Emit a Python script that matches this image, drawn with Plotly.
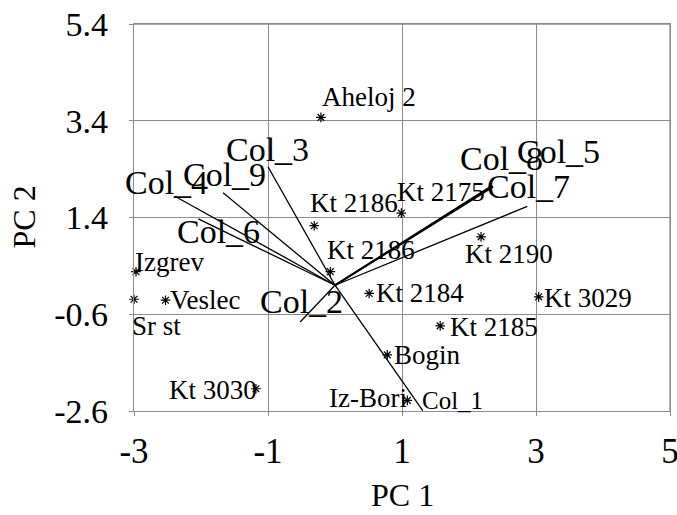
import plotly.graph_objects as go

# --- data: sample scores ---
sample_names = ["Aheloj 2", "Kt 2186", "Kt 2175", "Kt 2186 ", "Kt 2190", "Kt 2184",
                "Kt 3029", "Kt 2185", "Bogin", "Iz-Bori", "Kt 3030", "Izgrev",
                "Sr st", "Veslec"]
sample_pc1 = [-0.21, -0.31, 0.99, -0.07, 2.18, 0.51, 3.04, 1.57, 0.78, 1.08, -1.18, -2.97, -3.0, -2.53]
sample_pc2 = [3.47, 1.23, 1.49, 0.28, 1.00, -0.17, -0.24, -0.84, -1.44, -2.38, -2.14, 0.28, -0.29, -0.31]

# --- data: variable loadings (vectors from origin) ---
var_names = ["Col_1", "Col_2", "Col_3", "Col_4", "Col_5", "Col_6", "Col_7", "Col_8", "Col_9"]
var_pc1 = [1.31, -0.52, -1.00, -2.39, 2.35, -2.04, 2.87, 2.36, -1.67]
var_pc2 = [-2.59, -0.76, 2.45, 1.84, 2.06, 1.37, 1.63, 2.04, 1.91]

x_ticks = [-3, -1, 1, 3, 5]
y_ticks = [-2.6, -0.6, 1.4, 3.4, 5.4]

# label placement (styles, pixel shifts)
sample_lab = {
    "Aheloj 2": ("left", -1, 20),
    "Kt 2186": ("left", -6, 23),
    "Kt 2175": ("left", -6, 21),
    "Kt 2186 ": ("left", -5, 22),
    "Kt 2190": ("left", -18, -17),
    "Kt 2184": ("left", 5, 0),
    "Kt 3029": ("left", 3, -1),
    "Kt 2185": ("left", 8, -1),
    "Bogin": ("left", 5, 0),
    "Iz-Bori": ("right", 2, 2),
    "Kt 3030": ("right", 3, -1),
    "Izgrev": ("left", -3, 10),
    "Sr st": ("left", -4, -27),
    "Veslec": ("left", 3, 0),
}
var_lab = {
    "Col_1": ("left", -3, 10, 25),
    "Col_2": ("center", 1, 20, 34),
    "Col_3": ("center", -1, 17, 34),
    "Col_4": ("center", -8, 14, 34),
    "Col_5": ("center", 66, 34, 34),
    "Col_6": ("center", 20, -13, 34),
    "Col_7": ("center", 1, 20, 34),
    "Col_8": ("center", 8, 28, 34),
    "Col_9": ("center", 1, 18, 34),
}

FONT = "Liberation Serif, Times New Roman, serif"
fig = go.Figure()

for n, vx, vy in zip(var_names, var_pc1, var_pc2):
    w = 2.0 if n in ("Col_8", "Col_5") else 1.3
    fig.add_trace(go.Scatter(x=[0, vx], y=[0, vy], mode="lines",
                             line=dict(color="black", width=w),
                             showlegend=False, hoverinfo="skip"))

fig.add_trace(go.Scatter(x=sample_pc1, y=sample_pc2, mode="markers",
                         marker=dict(symbol="asterisk-open", size=8, color="black",
                                     line=dict(color="black", width=1.2)),
                         cliponaxis=False, showlegend=False))

annotations = []
for n, sx, sy in zip(sample_names, sample_pc1, sample_pc2):
    anc, dx, dy = sample_lab[n]
    annotations.append(dict(x=sx, y=sy, xref="x", yref="y", text=n.strip(),
                            showarrow=False, xanchor=anc, yanchor="middle",
                            xshift=dx, yshift=dy,
                            font=dict(family=FONT, size=27, color="black")))
for n, vx, vy in zip(var_names, var_pc1, var_pc2):
    anc, dx, dy, fs = var_lab[n]
    annotations.append(dict(x=vx, y=vy, xref="x", yref="y", text=n,
                            showarrow=False, xanchor=anc, yanchor="middle",
                            xshift=dx, yshift=dy,
                            font=dict(family=FONT, size=fs, color="black")))

annotations.append(dict(x=0.5, y=0, xref="paper", yref="paper", text="PC 1",
                        showarrow=False, xanchor="center", yanchor="middle",
                        yshift=-84, font=dict(family=FONT, size=32, color="black")))
annotations.append(dict(x=0, y=0.5, xref="paper", yref="paper", text="PC 2",
                        showarrow=False, xanchor="center", yanchor="middle",
                        xshift=-111, textangle=-90,
                        font=dict(family=FONT, size=32, color="black")))

grid = "#8c8c8c"
frame = [
    dict(type="line", xref="paper", yref="paper", x0=0, y0=1, x1=1, y1=1,
         line=dict(color=grid, width=1.3), layer="above"),
    dict(type="line", xref="paper", yref="paper", x0=1, y0=0, x1=1, y1=1,
         line=dict(color=grid, width=1.3), layer="above"),
]
fig.update_layout(
    width=677, height=515,
    margin=dict(l=134, r=7, t=24, b=104, autoexpand=False),
    paper_bgcolor="white", plot_bgcolor="white",
    annotations=annotations,
    font=dict(family=FONT, color="black"),
    shapes=frame,
)
fig.update_xaxes(range=[-3, 5], tickvals=x_ticks, ticktext=[str(v) for v in x_ticks],
                 automargin=False,
                 showgrid=True, gridcolor=grid, gridwidth=1.3,
                 showline=True, linecolor=grid, linewidth=1.3, mirror=True,
                 zeroline=False, ticks="outside", ticklen=4, tickcolor=grid,
                 ticklabelstandoff=5, ticklabeloverflow="allow",
                 tickfont=dict(family=FONT, size=35, color="black"))
fig.update_yaxes(range=[-2.6, 5.4], tickvals=y_ticks, ticktext=[str(v) for v in y_ticks],
                 automargin=False,
                 showgrid=True, gridcolor=grid, gridwidth=1.3,
                 showline=True, linecolor=grid, linewidth=1.3, mirror=True,
                 zeroline=False, ticks="outside", ticklen=4, tickcolor=grid,
                 ticklabelstandoff=14, ticklabeloverflow="allow",
                 tickfont=dict(family=FONT, size=34, color="black"))

# remove the browser's default 8px body margin so the figure fills the window
fig.write_html("out.html", config={"displayModeBar": False},
               post_script="document.body.style.margin='0';document.body.style.overflow='hidden';")
